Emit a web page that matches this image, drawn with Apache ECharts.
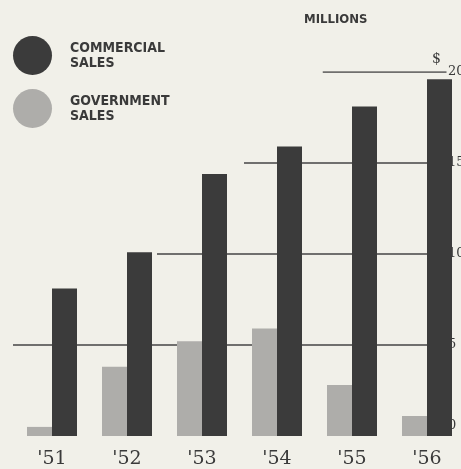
<!DOCTYPE html>
<html><head><meta charset="utf-8">
<script src="https://cdn.jsdelivr.net/npm/echarts@6/dist/echarts.min.js"></script>
<style>html,body{margin:0;padding:0;background:#f1f0e9}#c{width:461px;height:469px}</style>
</head><body><div id="c"></div>
<script>
const years = ["'51", "'52", "'53", "'54", "'55", "'56"];
const commercialSales = [8.1, 10.1, 14.4, 15.9, 18.1, 19.6];
const governmentSales = [0.5, 3.8, 5.2, 5.9, 2.8, 1.1];
const yTicks = [0, 5, 10, 15, 20];
const seriesNames = ['Commercial Sales', 'Government Sales'];

const condensed = "'Liberation Sans Narrow','DejaVu Sans Condensed','Roboto Condensed',sans-serif";
const serif = "'DejaVu Serif','Liberation Serif',serif";
const dark = '#3b3b3b', light = '#aeadaa', ink = '#3a3a3a';

// layout of the bar grid
const W = 461, gLeft = 52, gRight = 34;
const step = (W - gLeft - gRight) / (years.length - 1);

// stepped reference lines (start in category-index units), drawn behind bars
const stepStarts = [-0.52, 1.40, 2.56, 3.61];
const stepEnd = 5.26;
const stepSeries = yTicks.slice(1).map((v, i) => ({
  type: 'line', xAxisIndex: 2, yAxisIndex: 1, silent: true, z: 1,
  symbol: 'none', lineStyle: {color: '#454545', width: 1.5},
  data: [[stepStarts[i], v], [stepEnd, v]]
}));

const chart = echarts.init(document.getElementById('c'), null, {renderer: 'canvas'});
chart.setOption({
  backgroundColor: '#f1f0e9',
  animation: false,
  title: [
    {text: 'MILLIONS', left: 299, top: 8,
      textStyle: {fontFamily: condensed, fontWeight: 'bold', fontSize: 13, color: ink}},
    {text: '$', left: 427, top: 47,
      textStyle: {fontFamily: serif, fontWeight: 'normal', fontSize: 14, color: ink}}
  ],
  legend: {
    data: seriesNames, orient: 'vertical', left: 8, top: 31,
    icon: 'circle', itemWidth: 39, itemHeight: 39, itemGap: 14,
    formatter: n => n.toUpperCase().replace(' ', '\n'),
    textStyle: {fontFamily: condensed, fontWeight: 'bold', fontSize: 14, lineHeight: 15,
      color: ink, padding: [0, 0, 0, 13]},
    selectedMode: false
  },
  grid: [
    {left: gLeft, right: gRight, top: 72, bottom: 33, outerBoundsMode: 'none', containLabel: false},
    {left: 0, right: 0, top: 72, bottom: 33, outerBoundsMode: 'none', containLabel: false}
  ],
  xAxis: [{
    type: 'category', data: years, boundaryGap: false, gridIndex: 0,
    axisLine: {show: false}, axisTick: {show: false},
    axisLabel: {fontFamily: serif, fontSize: 19, color: ink, margin: 14}
  }, {
    type: 'value', min: 0, max: years.length - 1, show: false, gridIndex: 0
  }, {
    // full-width axis with the same index-to-pixel mapping as the category axis
    type: 'value', gridIndex: 1, show: false,
    min: -gLeft / step, max: (years.length - 1) + gRight / step
  }],
  yAxis: [{
    type: 'value', min: 0, max: 20, interval: 5, position: 'right', gridIndex: 0,
    axisLine: {show: false}, axisTick: {show: false}, splitLine: {show: false},
    axisLabel: {fontFamily: serif, fontSize: 13, color: ink, margin: 21, align: 'left',
      formatter: v => v === 0 ? '{z|0}' : String(v),
      rich: {z: {fontFamily: serif, fontSize: 13, color: ink, padding: [0, 0, 20, 0]}}}
  }, {
    type: 'value', min: 0, max: 20, interval: 5, gridIndex: 1, show: false
  }],
  series: [
    {name: seriesNames[1], type: 'bar', data: governmentSales, barWidth: 25, barGap: '0%',
      itemStyle: {color: light}, z: 3},
    {name: seriesNames[0], type: 'bar', data: commercialSales, barWidth: 25, barGap: '0%',
      itemStyle: {color: dark}, z: 3},
    ...stepSeries
  ]
});
</script></body></html>
